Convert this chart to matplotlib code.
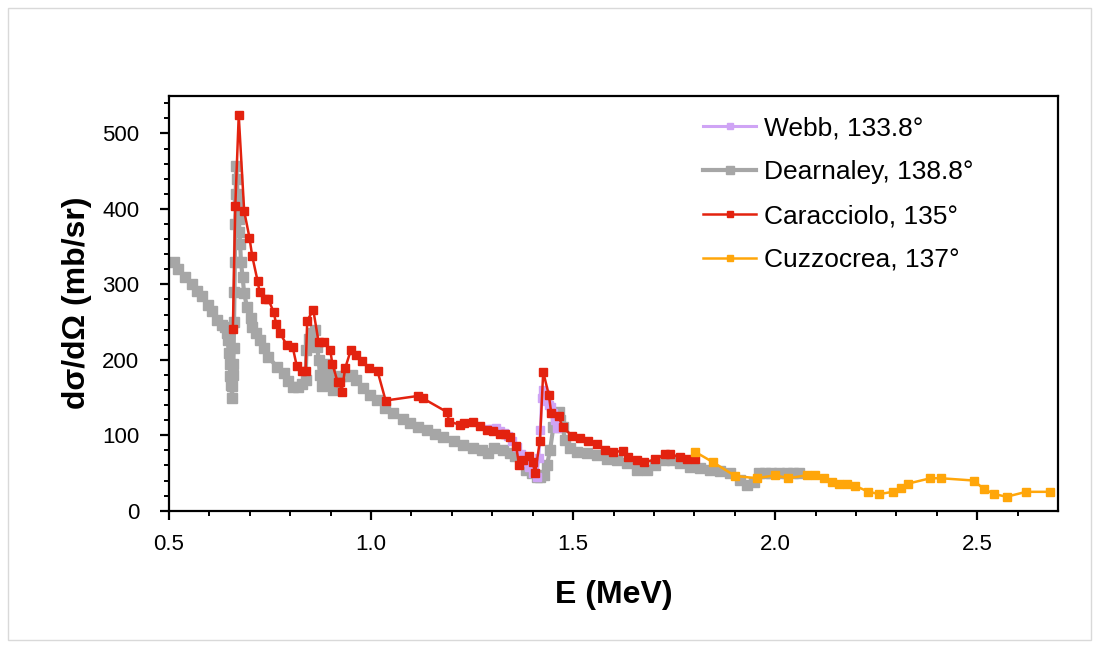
import matplotlib
matplotlib.use("Agg")
import matplotlib.pyplot as plt
from matplotlib.patches import Rectangle

plt.rcParams['font.family'] = ['Liberation Sans', 'DejaVu Sans']

# Webb, 133.8°
webb_E = [1.290, 1.300, 1.310, 1.320, 1.330, 1.340, 1.350, 1.360, 1.370, 1.380,
          1.390, 1.400, 1.410, 1.415, 1.419, 1.422, 1.425, 1.430, 1.435, 1.440,
          1.445, 1.450, 1.455, 1.460]
webb_s = [108, 108, 110, 106, 103, 99, 92, 85, 75, 65,
          58, 50, 45, 70, 107, 150, 160, 155, 145, 140,
          138, 130, 120, 110]

# Dearnaley, 138.8°
dear_E = [0.512, 0.523, 0.540, 0.556, 0.569, 0.581, 0.597, 0.606, 0.618, 0.632,
          0.639, 0.643, 0.645, 0.648, 0.650, 0.652, 0.654, 0.656, 0.657, 0.658,
          0.659, 0.660, 0.661, 0.662, 0.663, 0.664, 0.665, 0.666, 0.668, 0.670,
          0.672, 0.674, 0.676, 0.678, 0.682, 0.686, 0.693, 0.702, 0.706, 0.715,
          0.725, 0.736, 0.746, 0.766, 0.785, 0.795, 0.807, 0.818, 0.828, 0.838,
          0.840, 0.846, 0.853, 0.861, 0.867, 0.870, 0.874, 0.878, 0.882, 0.886,
          0.890, 0.894, 0.898, 0.902, 0.906, 0.910, 0.915, 0.925, 0.936, 0.952,
          0.963, 0.981, 0.998, 1.014, 1.035, 1.055, 1.080, 1.097, 1.117, 1.138,
          1.158, 1.179, 1.204, 1.228, 1.253, 1.274, 1.290, 1.303, 1.327, 1.344,
          1.356, 1.373, 1.384, 1.398, 1.410, 1.418, 1.428, 1.435, 1.443, 1.451,
          1.458, 1.464, 1.468, 1.474, 1.480, 1.493, 1.509, 1.534, 1.559, 1.583,
          1.608, 1.633, 1.658, 1.682, 1.703, 1.724, 1.744, 1.765, 1.790, 1.814,
          1.839, 1.864, 1.889, 1.914, 1.930, 1.947, 1.959, 1.975, 1.990, 2.010,
          2.030, 2.045, 2.060]
dear_s = [330, 320, 310, 301, 291, 284, 272, 264, 253, 246,
          244, 235, 226, 209, 195, 178, 167, 150, 165, 180,
          195, 215, 250, 290, 330, 380, 420, 457, 440, 411,
          387, 370, 354, 330, 310, 288, 270, 255, 244, 235,
          226, 215, 204, 191, 182, 172, 164, 164, 168, 173,
          213, 228, 235, 239, 217, 200, 180, 165, 191, 195,
          170, 178, 190, 170, 160, 165, 173, 178, 178, 180,
          173, 162, 153, 147, 136, 129, 122, 116, 111, 107,
          102, 98, 93, 87, 83, 81, 76, 83, 80, 76,
          72, 65, 54, 50, 45, 45, 47, 60, 80, 111,
          125, 131, 120, 111, 94, 83, 78, 76, 74, 69,
          67, 63, 54, 54, 61, 67, 67, 63, 58, 56,
          54, 52, 50, 41, 34, 38, 50, 50, 50, 50,
          50, 50, 50]

# Caracciolo, 135°
carac_E = [0.658, 0.664, 0.6725, 0.686, 0.699, 0.706, 0.719, 0.724, 0.738, 0.746,
           0.759, 0.765, 0.775, 0.791, 0.806, 0.816, 0.828, 0.838, 0.842, 0.857,
           0.870, 0.884, 0.899, 0.904, 0.917, 0.923, 0.927, 0.936, 0.950, 0.963,
           0.977, 0.996, 1.016, 1.036, 1.115, 1.128, 1.187, 1.194, 1.219, 1.230,
           1.253, 1.270, 1.286, 1.301, 1.319, 1.332, 1.344, 1.359, 1.366, 1.377,
           1.392, 1.400, 1.406, 1.418, 1.426, 1.440, 1.446, 1.464, 1.474, 1.498,
           1.517, 1.538, 1.558, 1.579, 1.598, 1.624, 1.637, 1.658, 1.676, 1.703,
           1.728, 1.740, 1.765, 1.781, 1.802]
carac_s = [241, 404, 524, 397, 362, 337, 305, 290, 280, 280,
           263, 248, 235, 220, 217, 192, 185, 185, 252, 266,
           224, 224, 213, 195, 171, 171, 157, 189, 213, 206,
           199, 189, 185, 146, 152, 149, 131, 118, 114, 116,
           118, 112, 107, 105, 102, 101, 98, 86, 61, 67,
           72, 64, 50, 93, 184, 153, 129, 125, 111, 99,
           96, 93, 89, 81, 78, 79, 71, 67, 64, 68,
           75, 75, 71, 68, 68]

# Cuzzocrea, 137°
cuzz_E = [1.802, 1.847, 1.901, 1.955, 2.000, 2.033, 2.078, 2.099, 2.120, 2.140,
          2.159, 2.177, 2.198, 2.231, 2.258, 2.291, 2.311, 2.330, 2.384, 2.410,
          2.491, 2.516, 2.542, 2.573, 2.621, 2.681]
cuzz_s = [78, 64, 46, 43, 47, 43, 47, 47, 43, 38,
          36, 36, 33, 25, 22, 25, 30, 36, 43, 43,
          40, 29, 22, 18.5, 25, 25]

x_ticks = [0.5, 1.0, 1.5, 2.0, 2.5]
x_labels = ['0.5', '1.0', '1.5', '2.0', '2.5']
y_ticks = [0, 100, 200, 300, 400, 500]

fig = plt.figure(figsize=(10.99, 6.48), dpi=100)
fig.patches.append(Rectangle((0.007, 0.012), 0.986, 0.976, transform=fig.transFigure,
                             fill=False, edgecolor='#d9d9d9', linewidth=1.0))
ax = fig.add_axes([0.1538, 0.2119, 0.8089, 0.6404])

ms = 6.3
l1, = ax.plot(webb_E, webb_s, color='#CFA4F5', marker='s', ms=ms, lw=2.2,
              label='Webb, 133.8°', zorder=3)
l2, = ax.plot(dear_E, dear_s, color='#A6A6A6', marker='s', ms=ms + 0.5, lw=3.0,
              label='Dearnaley, 138.8°', zorder=2)
l3, = ax.plot(carac_E, carac_s, color='#E3220F', marker='s', ms=ms, lw=1.8,
              label='Caracciolo, 135°', zorder=4)
l4, = ax.plot(cuzz_E, cuzz_s, color='#FFA60A', marker='s', ms=ms, lw=1.8,
              label='Cuzzocrea, 137°', zorder=5)

ax.set_xlim(0.5, 2.7)
ax.set_ylim(0, 550)
ax.set_xticks(x_ticks)
ax.set_xticklabels(x_labels)
ax.set_xticks([0.6, 0.7, 0.8, 0.9, 1.1, 1.2, 1.3, 1.4, 1.6, 1.7, 1.8, 1.9,
               2.1, 2.2, 2.3, 2.4, 2.6], minor=True)
ax.set_yticks(y_ticks)
ax.set_yticks([v for v in range(0, 551, 20) if v % 100 != 0], minor=True)

for s in ax.spines.values():
    s.set_linewidth(1.6)
    s.set_color('black')
ax.tick_params(which='major', direction='out', length=6.5, width=1.6, labelsize=16)
ax.tick_params(which='minor', direction='out', length=3.8, width=1.4)
ax.tick_params(axis='x', which='major', pad=10)
ax.tick_params(axis='y', which='major', pad=15)

ax.set_xlabel('E (MeV)', fontsize=23, fontweight='bold', labelpad=18)
ax.set_ylabel('dσ/dΩ (mb/sr)', fontsize=23, fontweight='bold', labelpad=7)

leg = ax.legend(handles=[l1, l2, l3, l4], loc='upper left', frameon=False,
                fontsize=19, handlelength=2.0, handletextpad=0.3, labelspacing=0.75,
                markerscale=0.75, bbox_to_anchor=(0.589, 0.975), borderaxespad=0)

fig.savefig('out.png', dpi=100)
